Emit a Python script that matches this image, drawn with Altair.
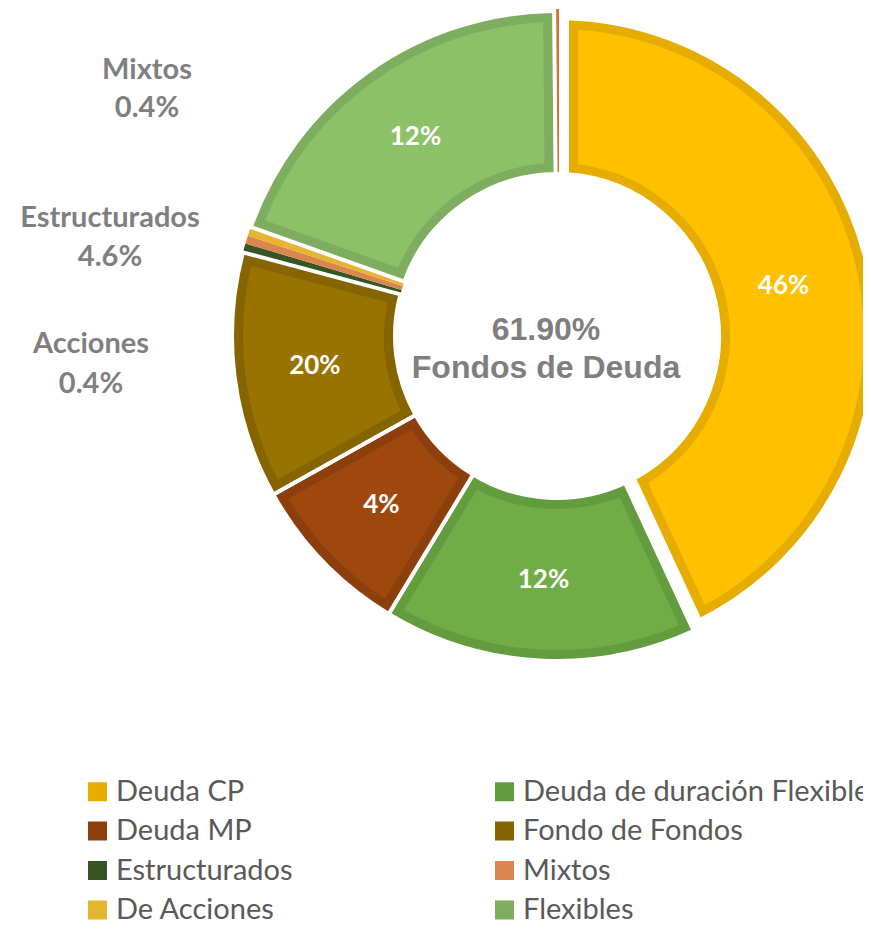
import math
import altair as alt
import pandas as pd

# ---------------- data ----------------
categories = ["Deuda CP", "Deuda de duración Flexible", "Deuda MP", "Fondo de Fondos",
              "Estructurados", "Mixtos", "De Acciones", "Flexibles", "Otros"]
values = [43.06, 15.56, 8.22, 12.24, 0.45, 0.40, 0.45, 19.40, 0.14]
slice_labels = ["46%", "12%", "4%", "20%", "", "", "", "12%", ""]
legend_colors = ["#E6AC00", "#629C3F", "#8C3E0D", "#866500", "#375623",
                 "#D9864F", "#E6B52E", "#7EAD5F", "#D2732F"]
fill_colors = ["#FFC000", "#70AD47", "#9E480E", "#997300", "#375623",
               "#D9864F", "#E6B52E", "#8CC168", "#D2732F"]
legend_entries = categories[:8]

outside_names = ["Mixtos", "Estructurados", "Acciones"]
outside_pcts = ["0.4%", "4.6%", "0.4%"]
center_lines = ["61.90%", "Fondos de Deuda"]

highlight = ["Deuda CP"]
main_slices = ["Deuda de duración Flexible", "Deuda MP", "Fondo de Fondos", "Flexibles"]
slivers = ["Estructurados", "Mixtos", "De Acciones"]
top_line = ["Otros"]

df = pd.DataFrame({
    "cat": categories,
    "value": values,
    "label": slice_labels,
    "fill": fill_colors,
    "order": list(range(len(categories))),
})

# ---------------- geometry / style ----------------
CX, CY = 549, 328          # donut centre (chart coordinates)
R_OUT, R_IN = 325, 162
BORDER = 9
GAP = 4

theta_scale = alt.Scale(domain=[0, 1])

base = (
    alt.Chart(df)
    .transform_window(cum="sum(value)", sort=[alt.SortField("order")], frame=[None, 0])
    .transform_joinaggregate(total="sum(value)")
    .transform_calculate(
        start="(datum.cum - datum.value) / datum.total",
        end="datum.cum / datum.total",
        mid="(datum.cum - datum.value / 2) / datum.total",
    )
)

legend = alt.Legend(
    title=None, orient="none", legendX=75, legendY=769, columns=2, direction="horizontal",
    columnPadding=197, rowPadding=9.5, symbolType="square", symbolSize=361,
    symbolStrokeWidth=0, labelFont="Lato", labelFontSize=29, labelColor="#595959",
    labelOffset=4, labelLimit=600, values=legend_entries, padding=0,
)


def color_enc():
    return alt.Color("cat:N", scale=alt.Scale(domain=categories, range=legend_colors), legend=legend)


def outer_ring(cats, r_out=R_OUT, r_in=R_IN, extra_pad=0.0, stroke=True, dx=0, dy=0):
    kw = dict(radius=r_out, radius2=r_in)
    if stroke:
        kw.update(stroke="white", strokeWidth=GAP)
    if extra_pad:
        kw.update(padAngle=2 * extra_pad / math.sqrt(r_out ** 2 + r_in ** 2))
    return (
        base.transform_filter(alt.FieldOneOfPredicate(field="cat", oneOf=cats))
        .mark_arc(**kw)
        .encode(
            theta=alt.Theta("start:Q", scale=theta_scale),
            theta2=alt.Theta2("end:Q"),
            color=color_enc(),
            x=alt.value(CX + dx), y=alt.value(CY + dy),
        )
    )


def inner_fill(cats, r_out=R_OUT, r_in=R_IN, extra_pad=0.0):
    inset = BORDER + GAP / 2
    ro, ri = r_out - inset, r_in + inset
    pad = 2 * (inset + extra_pad) / math.sqrt(ro ** 2 + ri ** 2)
    return (
        base.transform_filter(alt.FieldOneOfPredicate(field="cat", oneOf=cats))
        .mark_arc(radius=ro, radius2=ri, padAngle=pad)
        .encode(
            theta=alt.Theta("start:Q", scale=theta_scale),
            theta2=alt.Theta2("end:Q"),
            color=alt.Color("fill:N", scale=None),
            x=alt.value(CX), y=alt.value(CY),
        )
    )


def slice_text(cats, radius):
    return (
        base.transform_filter(alt.FieldOneOfPredicate(field="cat", oneOf=cats))
        .mark_text(font="Lato", fontWeight="bold", fontSize=26, color="white",
                   radius=radius, baseline="middle", align="center")
        .encode(
            theta=alt.Theta("mid:Q", scale=theta_scale),
            text="label:N",
            x=alt.value(CX), y=alt.value(CY),
        )
    )


YR = R_OUT - 7   # outer radius of the highlighted slice
layers = [
    outer_ring(slivers, stroke=False),
    outer_ring(main_slices),
    inner_fill(main_slices),
    outer_ring(highlight, r_out=YR, extra_pad=10),
    inner_fill(highlight, r_out=YR, extra_pad=10),
    outer_ring(top_line, stroke=False, dx=2, dy=-2),
    slice_text(main_slices, 244),
    slice_text(highlight, 232),
]

# outside annotation labels
out_pos = [(139, 62, 100), (102, 210, 249), (83, 336, 376)]
for name, pct, (x, y1, y2) in zip(outside_names, outside_pcts, out_pos):
    for txt, yy in ((name, y1), (pct, y2)):
        layers.append(
            alt.Chart(df).transform_filter("datum.order == 0")
            .mark_text(font="Lato", fontWeight="bold", fontSize=29, color="#7F7F7F",
                       align="center", baseline="middle")
            .encode(x=alt.value(x), y=alt.value(yy), text=alt.value(txt))
        )

# centre text
for txt, yy in zip(center_lines, (322, 360)):
    layers.append(
        alt.Chart(df).transform_filter("datum.order == 0")
        .mark_text(font="Liberation Sans", fontWeight="bold", fontSize=32, color="#7F7F7F",
                   align="center", baseline="middle")
        .encode(x=alt.value(538), y=alt.value(yy), text=alt.value(txt))
    )

chart = (
    alt.layer(*layers)
    .properties(width=855, height=918, autosize="none", padding=0, background="white")
    .configure_view(stroke=None)
)

chart.save("out.html", embed_options={"renderer": "svg", "actions": False})
